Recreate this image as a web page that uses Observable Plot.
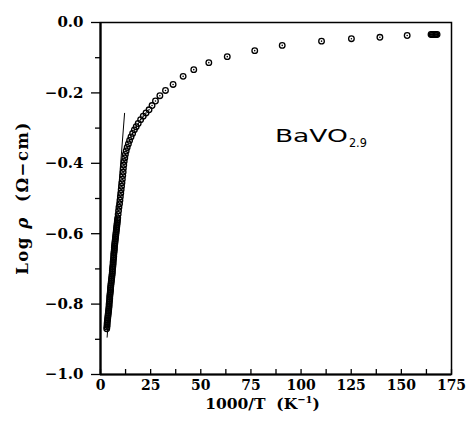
<!DOCTYPE html>
<html><head><meta charset="utf-8">
<script src="https://cdn.jsdelivr.net/npm/d3@7"></script>
<script src="https://cdn.jsdelivr.net/npm/@observablehq/plot@0.6"></script>
<style>body{margin:0;background:#fff}</style>
</head><body><div id="chart"></div>
<script>
// 1000/T (K^-1) values of the measured points
const invT = [
  3.1,3.2,3.3,3.3,3.4,3.5,3.6,3.7,3.8,3.9,4.0,4.1,4.2,4.3,4.3,4.4,4.5,4.6,4.6,4.7,
  4.8,4.9,5.0,5.0,5.1,5.2,5.3,5.4,5.5,5.6,5.7,5.8,5.9,5.9,6.0,6.1,6.2,6.3,6.3,6.4,
  6.5,6.6,6.6,6.7,6.8,6.9,6.9,7.0,7.1,7.2,7.3,7.4,7.5,7.6,7.7,7.8,7.9,8.0,8.1,8.2,
  8.3,8.4,8.5,8.6,
  8.8,9.0,9.2,9.5,9.7,9.9,10.1,10.3,10.5,10.7,10.9,11.1,11.3,11.4,11.6,11.8,12.1,12.4,
  12.8,13.3,13.9,14.5,15.2,16.0,16.9,17.8,18.8,20.0,21.3,22.7,24.2,25.7,27.4,
  29.6,32.4,36.2,41.2,46.5,54.0,63.2,76.9,90.6,110.2,125.1,139.3,152.9,
  164.8,165.4,166.0,166.6,167.2,167.8
];
// Log rho (Ohm-cm) values of the measured points
const logRho = [
  -0.870,-0.865,-0.860,-0.855,-0.850,-0.845,-0.840,-0.835,-0.830,-0.825,-0.820,-0.815,-0.810,-0.805,-0.800,-0.795,-0.790,-0.785,-0.780,-0.775,
  -0.770,-0.765,-0.760,-0.755,-0.750,-0.745,-0.740,-0.735,-0.730,-0.725,-0.720,-0.715,-0.710,-0.705,-0.700,-0.695,-0.690,-0.685,-0.680,-0.675,
  -0.670,-0.665,-0.660,-0.655,-0.650,-0.645,-0.640,-0.635,-0.630,-0.625,-0.620,-0.615,-0.610,-0.605,-0.600,-0.595,-0.590,-0.585,-0.580,-0.575,
  -0.570,-0.565,-0.560,-0.555,
  -0.545,-0.535,-0.525,-0.515,-0.505,-0.495,-0.485,-0.475,-0.465,-0.455,-0.445,-0.435,-0.425,-0.415,-0.405,-0.395,-0.385,-0.375,
  -0.365,-0.355,-0.345,-0.335,-0.325,-0.315,-0.305,-0.296,-0.287,-0.276,-0.266,-0.257,-0.248,-0.236,-0.223,
  -0.208,-0.193,-0.176,-0.153,-0.134,-0.114,-0.097,-0.080,-0.065,-0.053,-0.046,-0.042,-0.037,
  -0.034,-0.034,-0.034,-0.034,-0.034,-0.034
];
// straight fitted line through the high-temperature part
const fitInvT = [3.3, 12.0];
const fitLogRho = [-0.894, -0.258];

const xMajorTicks = [0, 25, 50, 75, 100, 125, 150, 175];
const xMinorTicks = [12.5, 37.5, 62.5, 87.5, 112.5, 137.5, 162.5];
const yMajorTicks = [-1.0, -0.8, -0.6, -0.4, -0.2, 0.0];
const yMinorTicks = [-0.9, -0.7, -0.5, -0.3, -0.1];

const compoundMain = "BaVO";
const compoundSub = "2.9";

const points = invT.map((x, i) => ({x, y: logRho[i]}));
const fit = fitInvT.map((x, i) => ({x, y: fitLogRho[i]}));
const fmt = d => (d < 0 ? "\u2212" : "") + Math.abs(d).toFixed(1);

const plot = Plot.plot({
  width: 470, height: 421,
  marginLeft: 100, marginRight: 19, marginTop: 22, marginBottom: 47,
  style: {fontFamily: "'DejaVu Serif', serif", background: "#fff", color: "#000", overflow: "visible"},
  x: {domain: [0, 175]},
  y: {domain: [-1, 0]},
  marks: [
    Plot.line(fit, {x: "x", y: "y", stroke: "#000", strokeWidth: 1}),
    Plot.dot(points, {x: "x", y: "y", r: 2.8, stroke: "#000", strokeWidth: 1.3, fill: "none"}),
    Plot.dot(points, {x: "x", y: "y", r: 0.8, fill: "#000"}),
    Plot.tickX(xMajorTicks.concat(xMinorTicks), {x: d => d, insetTop: 347, stroke: "#000", strokeWidth: 1.3}),
    Plot.axisX({ticks: xMajorTicks, tickSize: 0, tickPadding: 6, tickFormat: d => String(d), fontSize: 14, fontWeight: "bold", label: null}),
    Plot.axisY({ticks: yMajorTicks, tickSize: 9, tickPadding: 8, tickFormat: fmt, fontSize: 15, fontWeight: "bold", label: null, strokeWidth: 1.3}),
    Plot.axisY({ticks: yMinorTicks, tickSize: 5, tickFormat: () => "", label: null, strokeWidth: 1.3}),
    Plot.frame({stroke: "#000", strokeWidth: 1.5}),
    Plot.ruleX([0], {stroke: "#000", strokeWidth: 2.2}),
    Plot.ruleY([-1], {stroke: "#000", strokeWidth: 2.2})
  ]
});

const svg = d3.select(plot);
const xs = plot.scale("x"), ys = plot.scale("y");
const cx = (xs.range[0] + xs.range[1]) / 2;
const cy = (ys.range[0] + ys.range[1]) / 2;

// y axis label
const yl = svg.append("text")
  .attr("transform", `translate(22,${cy}) rotate(-90)`)
  .attr("text-anchor", "middle").attr("dominant-baseline", "central")
  .attr("font-size", 16.5).attr("font-weight", "bold").attr("fill", "#000")
  .attr("letter-spacing", 1.5)
  .attr("xml:space", "preserve");
yl.append("tspan").text("Log ");
yl.append("tspan").attr("font-style", "italic").text("\u03c1");
yl.append("tspan").text("  (\u03a9\u2212cm)");

// x axis label
const xl = svg.append("text")
  .attr("x", cx - 13).attr("y", 409)
  .attr("text-anchor", "middle")
  .attr("font-size", 15.5).attr("font-weight", "bold").attr("fill", "#000")
  .attr("xml:space", "preserve");
xl.append("tspan").text("1000/T  (K");
xl.append("tspan").attr("font-size", 10).attr("dy", -6).text("\u22121");
xl.append("tspan").attr("dy", 6).text(")");

// compound annotation
const ax = xs.apply(87.2), ay = ys.apply(-0.341);
svg.append("text").attr("x", ax).attr("y", ay)
  .attr("text-anchor", "start")
  .attr("font-family", "'DejaVu Sans', sans-serif").attr("font-size", 17).attr("fill", "#000")
  .attr("textLength", 73).attr("lengthAdjust", "spacingAndGlyphs")
  .text(compoundMain);
svg.append("text").attr("x", ax + 74).attr("y", ay + 5)
  .attr("text-anchor", "start")
  .attr("font-family", "'DejaVu Sans', sans-serif").attr("font-size", 12).attr("fill", "#000")
  .attr("textLength", 18).attr("lengthAdjust", "spacingAndGlyphs")
  .text(compoundSub);

document.getElementById("chart").appendChild(plot);
</script>
</body></html>
